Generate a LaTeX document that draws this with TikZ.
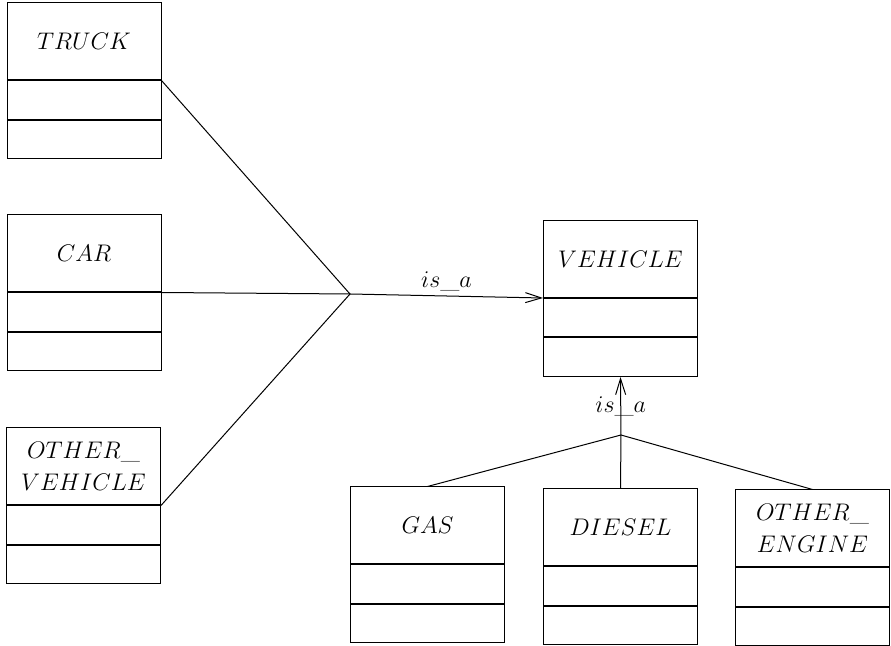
\documentclass[tikz,border=0pt]{standalone}
\usetikzlibrary{positioning,arrows.meta}
\begin{document}
\begin{tikzpicture}[
  x=0.5pt,y=-0.5pt,
  >={Straight Barb[length=8pt,width=5pt]},
  head/.style={draw,line width=0.5pt,minimum width=77pt,minimum height=38.5pt,
    inner sep=0pt,align=center,font=\fontsize{13}{16}\selectfont},
  slot/.style={draw,line width=0.5pt,minimum width=77pt,minimum height=19.25pt,
    inner sep=0pt,below=0pt of #1},
  link/.style={line width=0.5pt},
  isa/.style={->,line width=0.5pt},
  note/.style={font=\fontsize{13}{16}\selectfont,inner sep=2pt}
]
\useasboundingbox (0,0) rectangle (891,646);

\node[head] (truck) at (84,41.5) {$TRUCK$};
\node[slot=truck] (truck-a) {};
\node[slot=truck-a] (truck-b) {};

\node[head] (car) at (84,253.5) {$CAR$};
\node[slot=car] (car-a) {};
\node[slot=car-a] (car-b) {};

\node[head] (other) at (83.5,466.5) {$OTHER\_$\\$VEHICLE$};
\node[slot=other] (other-a) {};
\node[slot=other-a] (other-b) {};

\node[head] (vehicle) at (620.5,259) {$VEHICLE$};
\node[slot=vehicle] (vehicle-a) {};
\node[slot=vehicle-a] (vehicle-b) {};

\node[head] (gas) at (427.5,525.5) {$GAS$};
\node[slot=gas] (gas-a) {};
\node[slot=gas-a] (gas-b) {};

\node[head] (diesel) at (620.5,527.5) {$DIESEL$};
\node[slot=diesel] (diesel-a) {};
\node[slot=diesel-a] (diesel-b) {};

\node[head] (engine) at (812.5,528.5) {$OTHER\_$\\$ENGINE$};
\node[slot=engine] (engine-a) {};
\node[slot=engine-a] (engine-b) {};

\coordinate (fork) at (350,294);
\coordinate (join) at (621,435);

\draw[link] (truck.south east) -- (fork);
\draw[link] (car.south east) -- (fork);
\draw[link] (other.south east) -- (fork);
\draw[isa] (fork) -- node[note,above] {$is\_a$} (vehicle.south west);

\draw[link] (gas.north) -- (join);
\draw[link] (diesel.north) -- (join);
\draw[link] (engine.north) -- (join);
\draw[isa] (join) -- node[note] {$is\_a$} (vehicle-b.south);
\end{tikzpicture}
\end{document}
